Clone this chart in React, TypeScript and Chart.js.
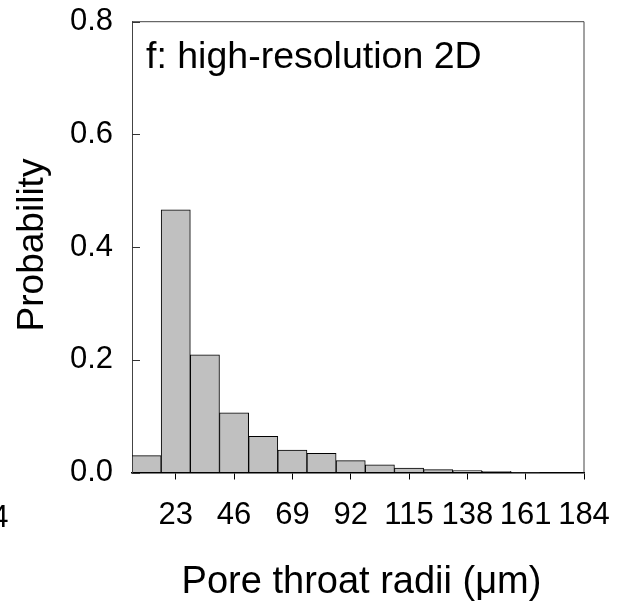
import React, { useEffect, useRef } from "react";
import { Chart, registerables } from "chart.js";

Chart.register(...registerables);

// Bin centres (µm) and probabilities
const binCenters = [11.5, 23, 34.5, 46, 57.5, 69, 80.5, 92, 103.5, 115, 126.5, 138, 149.5, 161, 172.5];
const probabilities = [0.03, 0.466, 0.209, 0.106, 0.064, 0.04, 0.034, 0.021, 0.0135, 0.008, 0.005, 0.0035, 0.002, 0.0005, 0];
const xTickValues = [23, 46, 69, 92, 115, 138, 161, 184];
const yTickValues = [0, 0.2, 0.4, 0.6, 0.8];
const panelTitle = "f: high-resolution 2D";
const xTitle = "Pore throat radii (\u03bcm)";
const yTitle = "Probability";
const strayLabel = "4";

const FONT = "'Liberation Sans', Arial, sans-serif";

const decorPlugin = {
  id: "decor",
  afterDraw(chart: any) {
    const { ctx, chartArea } = chart;
    const y = chart.scales.y;
    ctx.save();
    // inward y ticks
    ctx.strokeStyle = "#333";
    ctx.lineWidth = 1;
    yTickValues.forEach((v) => {
      const py = Math.round(y.getPixelForValue(v)) + 0.5;
      ctx.beginPath();
      ctx.moveTo(chartArea.left, py);
      ctx.lineTo(chartArea.left + 8, py);
      ctx.stroke();
    });
    // top and right frame
    ctx.strokeStyle = "#444";
    ctx.beginPath();
    ctx.moveTo(chartArea.left, chartArea.top);
    ctx.lineTo(chartArea.right, chartArea.top);
    ctx.lineTo(chartArea.right, chartArea.bottom);
    ctx.stroke();
    // panel title
    ctx.fillStyle = "#000";
    ctx.font = `37.5px ${FONT}`;
    ctx.textAlign = "left";
    ctx.textBaseline = "alphabetic";
    ctx.fillText(panelTitle, 146, 68);
    // x title
    ctx.font = `38px ${FONT}`;
    ctx.textAlign = "center";
    ctx.fillText(xTitle, 361.5, 593);
    // y title
    ctx.save();
    ctx.translate(43.3, 245);
    ctx.rotate(-Math.PI / 2);
    ctx.font = `37px ${FONT}`;
    ctx.textAlign = "center";
    ctx.fillText(yTitle, 0, 0);
    ctx.restore();
    // stray label from neighbouring panel
    ctx.font = `31px ${FONT}`;
    ctx.textAlign = "right";
    ctx.fillText(strayLabel, 8.5, 527);
    ctx.restore();
  },
};

export default function App() {
  const ref = useRef<HTMLCanvasElement>(null);
  useEffect(() => {
    if (!ref.current) return;
    const chart = new Chart(ref.current, {
      type: "bar",
      data: {
        datasets: [
          {
            data: binCenters.map((x, i) => ({ x, y: probabilities[i] })),
            backgroundColor: "#c0c0c0",
            borderColor: "#000",
            borderWidth: 1,
            barPercentage: 1,
            categoryPercentage: 1,
          },
        ],
      },
      options: {
        animation: false,
        responsive: false,
        layout: { padding: { left: 0, right: 40, top: 21.7, bottom: 0 } },
        plugins: { legend: { display: false }, tooltip: { enabled: false } },
        scales: {
          x: {
            type: "linear",
            min: 5.75,
            max: 184,
            offset: false,
            afterBuildTicks: (axis: any) => {
              axis.ticks = xTickValues.map((v) => ({ value: v }));
            },
            afterFit: (s: any) => {
              s.height = 135.5;
              s.paddingLeft = 0;
              s.paddingRight = 0;
            },
            grid: {
              offset: false,
              drawOnChartArea: false,
              drawTicks: true,
              tickLength: 7,
              color: "#000",
              lineWidth: 1,
            },
            border: { display: true, color: "#000", width: 1.5 },
            ticks: {
              autoSkip: false,
              maxRotation: 0,
              padding: 17,
              color: "#000",
              font: { family: FONT, size: 31 },
              callback: (v: any) => String(v),
            },
          },
          y: {
            min: 0,
            max: 0.8,
            afterBuildTicks: (axis: any) => {
              axis.ticks = yTickValues.map((v) => ({ value: v }));
            },
            afterFit: (s: any) => {
              s.width = 132;
              s.paddingTop = 0;
              s.paddingBottom = 0;
            },
            grid: { drawOnChartArea: false, drawTicks: false },
            border: { display: true, color: "#444", width: 1 },
            ticks: {
              padding: 19,
              color: "#000",
              font: { family: FONT, size: 31 },
              callback: (v: any) => Number(v).toFixed(1),
            },
          },
        },
      },
      plugins: [decorPlugin],
    });
    return () => chart.destroy();
  }, []);
  return (
    <div style={{ position: "absolute", left: 0, top: 0, width: 624, height: 608, background: "#fff" }}>
      <canvas ref={ref} width={624} height={608} style={{ display: "block" }} />
    </div>
  );
}
